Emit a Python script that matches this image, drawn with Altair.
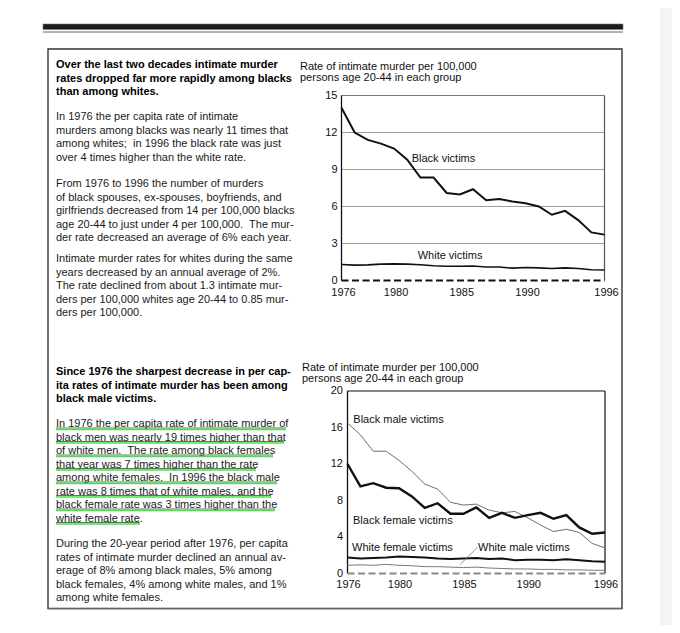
import altair as alt
import pandas as pd

# ---------------- data ----------------
years = list(range(1976, 1997))
black_victims = [14.0, 12.0, 11.4, 11.1, 10.7, 9.8, 8.35, 8.35, 7.1, 6.97, 7.4,
                 6.5, 6.6, 6.4, 6.27, 6.0, 5.33, 5.65, 4.9, 3.9, 3.72]
white_victims = [1.3, 1.25, 1.27, 1.33, 1.35, 1.33, 1.28, 1.2, 1.15, 1.15, 1.17,
                 1.1, 1.1, 1.0, 1.05, 1.02, 0.97, 1.02, 0.97, 0.87, 0.85]
black_male = [16.5, 15.2, 13.4, 13.4, 12.4, 11.2, 9.8, 9.25, 7.8, 7.5, 7.6,
              6.95, 6.65, 6.8, 6.1, 5.3, 4.6, 4.85, 4.5, 3.3, 2.8]
black_female = [12.0, 9.55, 9.9, 9.4, 9.35, 8.45, 7.2, 7.7, 6.55, 6.55, 7.25,
                6.1, 6.65, 6.1, 6.4, 6.65, 6.0, 6.4, 5.05, 4.35, 4.5]
white_female = [1.75, 1.65, 1.7, 1.75, 1.85, 1.8, 1.75, 1.65, 1.6, 1.65, 1.7,
                1.6, 1.65, 1.45, 1.5, 1.5, 1.45, 1.55, 1.45, 1.35, 1.3]
white_male = [0.9, 0.95, 0.9, 1.0, 0.9, 0.85, 0.75, 0.75, 0.7, 0.65, 0.7,
              0.6, 0.55, 0.5, 0.5, 0.45, 0.45, 0.4, 0.4, 0.35, 0.35]

x_ticks = [1976, 1980, 1985, 1990, 1996]
y_ticks_1 = [0, 3, 6, 9, 12, 15]
grid_1 = [3, 6, 9, 12]
y_ticks_2 = [0, 4, 8, 12, 16, 20]

leader_years = [1984.75, 1986.1]
leader_rates = [0.98, 2.88]

title_lines = ["Rate of intimate murder per 100,000", "persons age 20-44 in each group"]

NB = "\u00a0"
b1_head = ["Over the last two decades intimate murder",
           "rates dropped far more rapidly among blacks",
           "than among whites."]
b1_p2 = ["In 1976 the per capita rate of intimate",
         "murders among blacks was nearly 11 times that",
         "among whites;" + NB + " in 1996 the black rate was just",
         "over 4 times higher than the white rate."]
b1_p3 = ["From 1976 to 1996 the number of murders",
         "of black spouses, ex-spouses, boyfriends, and",
         "girlfriends decreased from 14 per 100,000 blacks",
         "age 20-44 to just under 4 per 100,000." + NB + " The mur-",
         "der rate decreased an average of 6% each year."]
b1_p4 = ["Intimate murder rates for whites during the same",
         "years decreased by an annual average of 2%.",
         "The rate declined from about 1.3 intimate mur-",
         "ders per 100,000 whites age 20-44 to 0.85 mur-",
         "ders per 100,000."]
b2_head = ["Since 1976 the sharpest decrease in per cap-",
           "ita rates of intimate murder has been among",
           "black male victims."]
b2_p2 = ["In 1976 the per capita rate of intimate murder of",
         "black men was nearly 19 times higher than that",
         "of white men." + NB + " The rate among black females",
         "that year was 7 times higher than the rate",
         "among white females." + NB + " In 1996 the black male",
         "rate was 8 times that of white males, and the",
         "black female rate was 3 times higher than the",
         "white female rate."]
b2_p3 = ["During the 20-year period after 1976, per capita",
         "rates of intimate murder declined an annual av-",
         "erage of 8% among black males, 5% among",
         "black females, 4% among white males, and 1%",
         "among white females."]

FONT = "Liberation Sans, Arial, sans-serif"
one = pd.DataFrame({"k": [0]})

# scales (pixel ranges place each panel on the page)
xs1 = alt.Scale(domain=[1976, 1996], range=[333.5, 596.5])
ys1 = alt.Scale(domain=[0, 15], range=[272.5, 87.5])
xs2 = alt.Scale(domain=[1976, 1996], range=[339.5, 597])
ys2 = alt.Scale(domain=[0, 20], range=[565.5, 383])

layers = []


def rect(x, x2, y, y2, **kw):
    return alt.Chart(one).mark_rect(**kw).encode(
        x=alt.value(x), x2=alt.value(x2), y=alt.value(y), y2=alt.value(y2))


def rule(x, x2, y, y2, **kw):
    return alt.Chart(one).mark_rule(**kw).encode(
        x=alt.value(x), x2=alt.value(x2), y=alt.value(y), y2=alt.value(y2))


def para(lines, x, y_center, bold=False, color="#1a1a1a"):
    kw = dict(font=FONT, fontSize=11, align="left", baseline="alphabetic",
              lineHeight=13.5, color=color)
    if bold:
        kw["fontWeight"] = "bold"
    return alt.Chart(one).mark_text(**kw).encode(
        x=alt.value(x), y=alt.value(y_center + 4 - 8), text=alt.value(lines))


def series(vals, xs, ys, **kw):
    df = pd.DataFrame({"year": years, "rate": vals})
    return alt.Chart(df).mark_line(**kw).encode(
        x=alt.X("year:Q", scale=xs, axis=None),
        y=alt.Y("rate:Q", scale=ys, axis=None))


def label(text, x, y):
    return alt.Chart(one).mark_text(font=FONT, fontSize=11, align="left",
                                    baseline="middle", color="#111").encode(
        x=alt.value(x - 8), y=alt.value(y - 8), text=alt.value(text))


# ---------------- page decoration ----------------
layers.append(rect(653, 664, 0, 617, color="#f4f4f4"))
layers.append(rule(653, 653, 0, 617, color="#e6e6e6", strokeWidth=1))
layers.append(rect(35, 615, 16, 21.5, color="#1c1c1c", stroke="#777", strokeWidth=0.6))
layers.append(rule(35, 615, 24, 24, color="#666", strokeWidth=1.2))
layers.append(rect(40, 614, 41, 600.5, fill="white", stroke="#333", strokeWidth=1.4))
layers.append(rule(40, 614, 601, 601, color="#999", strokeWidth=1))

# ---------------- left text ----------------
layers.append(para(b1_head, 48, 64, bold=True, color="#000"))
layers.append(para(b1_p2, 48, 116))
layers.append(para(b1_p3, 48, 183))
layers.append(para(b1_p4, 48, 258))
layers.append(para(b2_head, 48, 371, bold=True, color="#000"))
layers.append(para(b2_p2, 48, 423))
layers.append(para(b2_p3, 48, 543))

# underlines of the highlighted paragraph
underline_ends = [286, 284, 273, 256, 277, 271, 275, 140]
for i, xe in enumerate(underline_ends):
    yc = 423 + 13.5 * i - 8
    layers.append(rule(48, xe - 8, yc + 5, yc + 5, color="#444", strokeWidth=0.8))
    layers.append(rule(48, xe - 8, yc + 6.5, yc + 6.5, color="#3dea3d", strokeWidth=1.3))

# ---------------- chart 1 ----------------
layers.append(alt.Chart(one).mark_text(font=FONT, fontSize=11, align="left",
                                       baseline="alphabetic", lineHeight=11,
                                       color="#111").encode(
    x=alt.value(292), y=alt.value(66 + 4 - 8), text=alt.value(title_lines)))

# horizontal grid lines
for g in grid_1:
    gdf = pd.DataFrame({"year": [1976, 1996], "rate": [g, g]})
    layers.append(alt.Chart(gdf).mark_line(color="#a0a0a0", strokeWidth=1).encode(
        x=alt.X("year:Q", scale=xs1, axis=None),
        y=alt.Y("rate:Q", scale=ys1, axis=None)))
layers.append(rule(333.5, 596.5, 87.5, 87.5, color="#777", strokeWidth=1.2))
layers.append(rule(596.5, 596.5, 87.5, 272.5, color="#555", strokeWidth=1.2))
layers.append(rule(333.5, 333.5, 87.5, 272.5, color="#111", strokeWidth=1.3))

z1 = pd.DataFrame({"year": [1976, 1996], "rate": [0, 0]})
layers.append(alt.Chart(z1).mark_line(color="#111", strokeWidth=2, strokeDash=[7, 3.5]).encode(
    x=alt.X("year:Q", scale=xs1, axis=None), y=alt.Y("rate:Q", scale=ys1, axis=None)))

layers.append(series(black_victims, xs1, ys1, color="#111", strokeWidth=2))
layers.append(series(white_victims, xs1, ys1, color="#111", strokeWidth=1.6))

t1 = pd.DataFrame({"rate": y_ticks_1})
layers.append(alt.Chart(t1).mark_text(font=FONT, fontSize=11, align="right",
                                      baseline="middle", color="#111").encode(
    y=alt.Y("rate:Q", scale=ys1, axis=None), x=alt.value(329.5), text="rate:Q"))
xt1 = pd.DataFrame({"year": x_ticks})
layers.append(alt.Chart(xt1).mark_text(font=FONT, fontSize=11, align="center",
                                       baseline="middle", color="#111", dx=2).encode(
    x=alt.X("year:Q", scale=xs1, axis=None), y=alt.value(285), text="year:N"))

layers.append(label("Black victims", 411.7, 159))
layers.append(label("White victims", 417.7, 256))

# ---------------- chart 2 ----------------
layers.append(alt.Chart(one).mark_text(font=FONT, fontSize=11, align="left",
                                       baseline="alphabetic", lineHeight=11,
                                       color="#111").encode(
    x=alt.value(294), y=alt.value(367 + 4 - 8), text=alt.value(title_lines)))

layers.append(rule(339.5, 597, 383, 383, color="#111", strokeWidth=1.2))
layers.append(rule(597, 597, 383, 565.5, color="#111", strokeWidth=1.2))
layers.append(rule(339.5, 339.5, 383, 565.5, color="#111", strokeWidth=1.3))

layers.append(alt.Chart(z1).mark_line(color="#888", strokeWidth=2, strokeDash=[7, 3.5]).encode(
    x=alt.X("year:Q", scale=xs2, axis=None), y=alt.Y("rate:Q", scale=ys2, axis=None)))

layers.append(series(white_male, xs2, ys2, color="#7a7a7a", strokeWidth=1))
layers.append(series(black_male, xs2, ys2, color="#6e6e6e", strokeWidth=1))
layers.append(series(white_female, xs2, ys2, color="#111", strokeWidth=2))
layers.append(series(black_female, xs2, ys2, color="#111", strokeWidth=2.4))

ld = pd.DataFrame({"year": leader_years, "rate": leader_rates})
layers.append(alt.Chart(ld).mark_line(color="#777", strokeWidth=0.8).encode(
    x=alt.X("year:Q", scale=xs2, axis=None), y=alt.Y("rate:Q", scale=ys2, axis=None)))

t2 = pd.DataFrame({"rate": y_ticks_2})
layers.append(alt.Chart(t2).mark_text(font=FONT, fontSize=11, align="right",
                                      baseline="middle", color="#111").encode(
    y=alt.Y("rate:Q", scale=ys2, axis=None), x=alt.value(335), text="rate:Q"))
layers.append(alt.Chart(xt1).mark_text(font=FONT, fontSize=11, align="center",
                                       baseline="middle", color="#111", dx=1).encode(
    x=alt.X("year:Q", scale=xs2, axis=None), y=alt.value(577), text="year:N"))

layers.append(label("Black male victims", 353.3, 420))
layers.append(label("Black female victims", 353, 520.5))
layers.append(label("White female victims", 352, 548.3))
layers.append(label("White male victims", 478, 548))

chart = alt.layer(*layers).resolve_scale(x="independent", y="independent").properties(
    width=664, height=617, padding=0,
    autosize=alt.AutoSizeParams(type="none"),
).configure_view(stroke=None)

chart.save("out.html", embed_options={"renderer": "svg", "actions": False})
